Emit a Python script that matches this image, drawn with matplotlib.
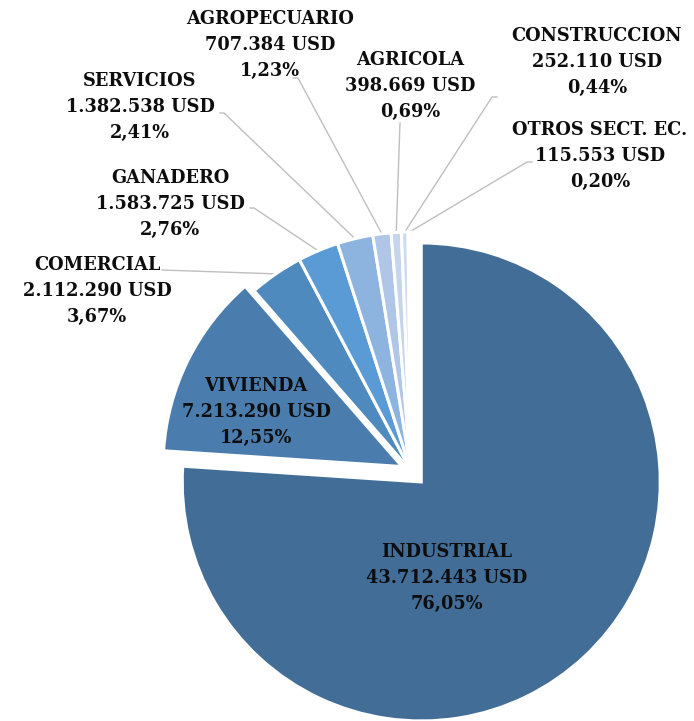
import matplotlib
matplotlib.use("Agg")
import matplotlib.pyplot as plt
import numpy as np

# ---- data ----
sectors = ["INDUSTRIAL", "VIVIENDA", "COMERCIAL", "GANADERO", "SERVICIOS",
           "AGROPECUARIO", "AGRICOLA", "CONSTRUCCION", "OTROS SECT. EC."]
amounts = ["43.712.443", "7.213.290", "2.112.290", "1.583.725", "1.382.538",
           "707.384", "398.669", "252.110", "115.553"]
percents = [76.05, 12.55, 3.67, 2.76, 2.41, 1.23, 0.69, 0.44, 0.20]
colors = ["#416D97", "#4A7DAE", "#4F8ABF", "#5B9BD5", "#8DB3DF",
          "#AFC6E6", "#C4D5EC", "#CDDBEF", "#D7E3F3"]

W, H = 694, 721
fig = plt.figure(figsize=(W / 100, H / 100), dpi=100)
ax = fig.add_axes([0, 0, 1, 1])

R = 239
cx, cy = 411, H - 471
explode = [15, 10, 0, 0, 0, 0, 0, 0, 0]  # offsets in axis units
wedges, _ = ax.pie(percents, colors=colors, startangle=90, counterclock=False,
                   radius=R, center=(cx, cy), explode=explode,
                   wedgeprops=dict(edgecolor="white", linewidth=2.2))

ax.set_xlim(0, W)
ax.set_ylim(0, H)
ax.set_aspect("equal")
ax.axis("off")

font = dict(family="DejaVu Serif", fontweight="bold", fontsize=12.8,
            color="#0d0d0d", ha="center", va="center", linespacing=1.58)

def fmt(i):
    p = f"{percents[i]:.2f}".replace(".", ",")
    return f"{sectors[i]}\n{amounts[i]} USD\n{p}%"

# label centres (pixel coords) and leader start points
text_pos = {0: (447, 578), 1: (256, 412), 2: (97, 291), 3: (170, 204),
            4: (140, 107), 5: (270, 45), 6: (410, 86), 7: (597, 62), 8: (600, 156)}
leaders = {2: [(162, 270)], 3: [(250, 208), (254, 208)],
           4: [(220, 113), (224, 113)], 5: [(293, 78), (298, 78)],
           6: [(400, 123)], 7: [(497, 97), (492, 97)],
           8: [(532, 162), (527, 162)]}

for i, (x, y) in text_pos.items():
    ax.text(x, H - y, fmt(i), **font)

for i, pts in leaders.items():
    w = wedges[i]
    mid = np.deg2rad((w.theta1 + w.theta2) / 2)
    ex = w.center[0] + w.r * np.cos(mid)
    ey = w.center[1] + w.r * np.sin(mid)
    xs = [p[0] for p in pts] + [ex]
    ys = [H - p[1] for p in pts] + [ey]
    ax.plot(xs, ys, color="#BFBFBF", lw=1.0, zorder=0)

fig.savefig("out.png", dpi=100)
